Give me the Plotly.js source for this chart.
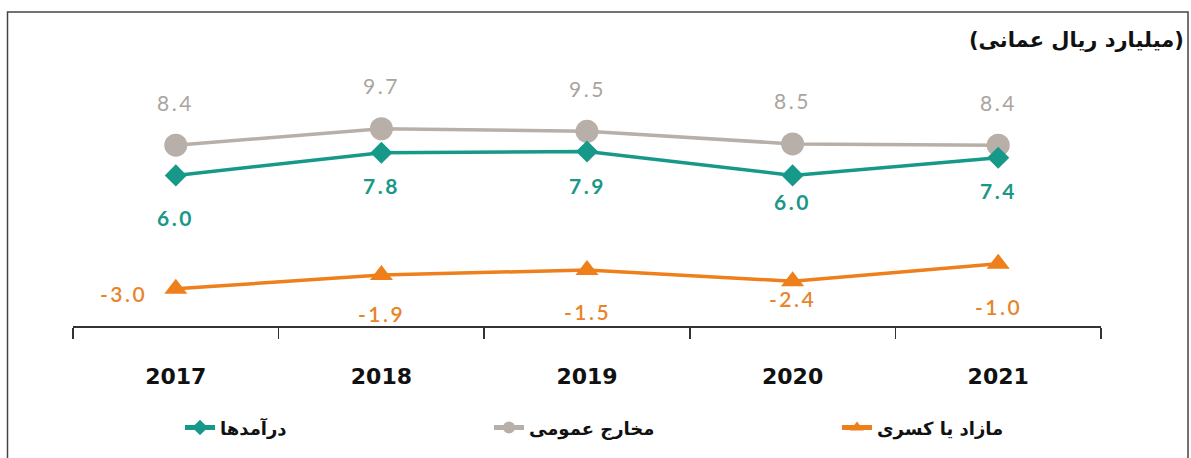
<!DOCTYPE html>
<html>
<head>
<meta charset="utf-8">
<script src="https://cdn.plot.ly/plotly-3.0.1.min.js"></script>
<style>
  html, body { margin: 0; padding: 0; background: #fff; }
  #chart { width: 1191px; height: 458px; }
</style>
</head>
<body>
<div id="chart"></div>
<script>
// ---- data ----
const years = ['2017', '2018', '2019', '2020', '2021'];
const revenue = [6.0, 7.8, 7.9, 6.0, 7.4];
const expenditure = [8.4, 9.7, 9.5, 8.5, 8.4];
const balance = [-3.0, -1.9, -1.5, -2.4, -1.0];
const seriesNames = ['درآمدها', 'مخارج عمومی', 'مازاد یا کسری'];
const unitTitle = '\u202B(میلیارد ریال عمانی)\u202C';

// ---- styling / label placement (layout config) ----
const colGray = '#b8afa8', colGrayTxt = '#aba49e';
const colTeal = '#17998a', colTealTxt = '#1b9787';
const colOrange = '#ee7f1a', colOrangeTxt = '#e8852a';
const expShiftY = [43, 43, 43, 43, 43];
const revShiftY = [-42, -33, -34, -26, -33];
const balShiftY = [-5, -38, -42, -17, -43];
const balShiftX = [-52, 0, 0, 0, 0];

const L = 73, R = 90, T = 60, B = 129;
const W = 1191, H = 458;
const pw = W - L - R, ph = H - T - B;
const px2x = p => (p - L) / pw;
const py2y = p => (H - B - p) / ph;

const traces = [
  { x: years, y: expenditure, name: seriesNames[1], type: 'scatter', mode: 'lines+markers',
    line: { color: colGray, width: 3.5 }, marker: { symbol: 'circle', size: 23, color: colGray },
    legend: 'legend2', hoverinfo: 'skip' },
  { x: years, y: revenue, name: seriesNames[0], type: 'scatter', mode: 'lines+markers',
    line: { color: colTeal, width: 3.5 }, marker: { symbol: 'diamond', size: 17, color: colTeal },
    legend: 'legend', hoverinfo: 'skip' },
  { x: years, y: balance, name: seriesNames[2], type: 'scatter', mode: 'lines+markers',
    line: { color: colOrange, width: 3.5 }, marker: { symbol: 'triangle-up', size: 20, color: colOrange },
    legend: 'legend3', hoverinfo: 'skip' }
];

const lblFont = (c, w) => ({ family: 'Lato', size: 21, color: c, weight: w || 'normal' });
const spaced = v => '<span style="letter-spacing:2.5px">' + v.toFixed(1) + '</span>';
const annotations = [];
years.forEach((yr, i) => {
  // category axis: position by category index
  annotations.push({ xref: 'x', yref: 'y', x: i, y: expenditure[i], text: spaced(expenditure[i]), showarrow: false,
    yshift: expShiftY[i], font: lblFont(colGrayTxt), xanchor: 'center', yanchor: 'middle' });
  annotations.push({ xref: 'x', yref: 'y', x: i, y: revenue[i], text: spaced(revenue[i]), showarrow: false,
    yshift: revShiftY[i], font: lblFont(colTealTxt, 'bold'), xanchor: 'center', yanchor: 'middle' });
  annotations.push({ xref: 'x', yref: 'y', x: i, y: balance[i], text: spaced(balance[i]), showarrow: false,
    yshift: balShiftY[i], xshift: balShiftX[i], font: lblFont(colOrangeTxt, 600), xanchor: 'center', yanchor: 'middle' });
});
annotations.push({ xref: 'paper', yref: 'paper', x: px2x(1186), y: py2y(40), xanchor: 'right', yanchor: 'middle',
  text: unitTitle, showarrow: false, font: { family: 'DejaVu Sans', size: 21, color: '#111', weight: 'bold' } });

const legendBase = { orientation: 'h', yref: 'paper', y: py2y(432), yanchor: 'middle', xanchor: 'left',
  font: { family: 'DejaVu Sans', size: 18, color: '#111', weight: 'bold' }, itemsizing: 'constant', bgcolor: 'rgba(0,0,0,0)' };

const layout = {
  width: W, height: H,
  margin: { l: L, r: R, t: T, b: B },
  paper_bgcolor: '#fff', plot_bgcolor: '#fff',
  showlegend: true,
  xaxis: {
    type: 'category', range: [-0.5, 4.5], showgrid: false, zeroline: false,
    showline: true, linecolor: '#333', linewidth: 1.5,
    ticks: 'outside', tickson: 'boundaries', ticklen: 11, tickwidth: 1.5, tickcolor: '#333',
    tickfont: { family: 'DejaVu Sans', size: 22, color: '#111', weight: 'bold' },
    ticklabelstandoff: 30, fixedrange: true
  },
  yaxis: { range: [-5.945, 15.153], visible: false, showgrid: false, zeroline: false, fixedrange: true },
  legend: Object.assign({}, legendBase, { x: px2x(180) }),
  legend2: Object.assign({}, legendBase, { x: px2x(489) }),
  legend3: Object.assign({}, legendBase, { x: px2x(837) }),
  annotations: annotations,
  shapes: [
    { type: 'rect', xref: 'paper', yref: 'paper', x0: px2x(7.5), x1: px2x(1188), y0: py2y(470), y1: py2y(11.5),
      line: { color: '#444', width: 1.5 }, fillcolor: 'rgba(0,0,0,0)', layer: 'below' }
  ]
};

Plotly.newPlot('chart', traces, layout, { displayModeBar: false, staticPlot: true });
</script>
</body>
</html>
